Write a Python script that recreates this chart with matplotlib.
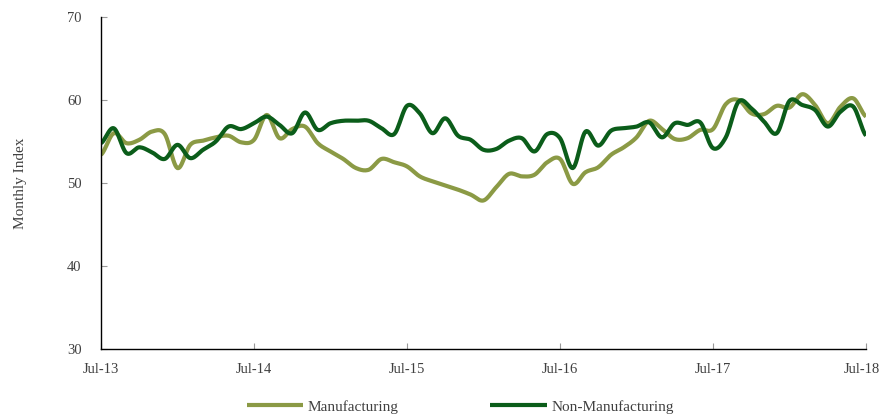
import numpy as np
import matplotlib
matplotlib.use('Agg')
import matplotlib.pyplot as plt
import matplotlib.transforms as mtransforms

# monthly index values, Jul-13 .. Jul-18
manufacturing = [53.4, 56.0, 54.8, 55.2, 56.2, 55.9, 51.8, 54.6, 55.1, 55.5,
                 55.7, 54.9, 55.2, 58.2, 55.4, 56.5, 56.8, 54.8, 53.8, 52.9,
                 51.8, 51.6, 52.9, 52.5, 52.0, 50.8, 50.2, 49.7, 49.2, 48.6,
                 47.9, 49.5, 51.1, 50.8, 51.0, 52.5, 52.9, 49.9, 51.3, 51.9,
                 53.4, 54.3, 55.5, 57.5, 56.5, 55.3, 55.4, 56.4, 56.5, 59.5,
                 60.0, 58.4, 58.3, 59.3, 59.1, 60.7, 59.4, 57.2, 59.2, 60.2,
                 58.0]
non_manufacturing = [54.8, 56.6, 53.6, 54.3, 53.7, 52.9, 54.6, 53.0, 54.0, 55.0,
                     56.8, 56.5, 57.2, 58.0, 57.0, 56.0, 58.5, 56.4, 57.2, 57.5,
                     57.5, 57.5, 56.6, 55.9, 59.3, 58.4, 56.0, 57.8, 55.7, 55.2,
                     54.0, 54.1, 55.1, 55.4, 53.8, 55.9, 55.4, 51.8, 56.2, 54.5,
                     56.3, 56.6, 56.8, 57.3, 55.5, 57.2, 57.0, 57.3, 54.2, 55.5,
                     59.8, 59.0, 57.4, 56.0, 59.9, 59.4, 58.8, 56.8, 58.6, 59.2,
                     55.7]
tick_labels = ['Jul-13', 'Jul-14', 'Jul-15', 'Jul-16', 'Jul-17', 'Jul-18']


def smooth(y, steps=12):
    # catmull-rom curve through the points, like a spreadsheet "smoothed line"
    y = np.asarray(y, dtype=float)
    p = np.concatenate([[y[0]], y, [y[-1]]])
    xs, ys = [], []
    t = np.linspace(0, 1, steps, endpoint=False)
    for i in range(len(y) - 1):
        p0, p1, p2, p3 = p[i], p[i + 1], p[i + 2], p[i + 3]
        seg = 0.5 * ((2 * p1) + (-p0 + p2) * t + (2 * p0 - 5 * p1 + 4 * p2 - p3) * t ** 2
                     + (-p0 + 3 * p1 - 3 * p2 + p3) * t ** 3)
        xs.extend(i + t)
        ys.extend(seg)
    xs.append(len(y) - 1)
    ys.append(y[-1])
    return np.array(xs), np.array(ys)


plt.rcParams['font.family'] = ['Liberation Serif', 'DejaVu Serif']

fig = plt.figure(figsize=(8.82, 4.15), dpi=100)
ax = fig.add_axes([0.1145, 0.159, 0.8674, 0.8])

xm, ym = smooth(manufacturing)
xn, yn = smooth(non_manufacturing)
ax.plot(xm, ym, color='#8B9A45', lw=3.0, label='Manufacturing', solid_capstyle='butt')
ax.plot(xn, yn, color='#0B5D1A', lw=3.0, label='Non-Manufacturing', solid_capstyle='butt')

ax.set_xlim(0, 60)
ax.set_ylim(30, 70)
ax.set_xticks(range(0, 61, 12))
ax.set_xticklabels(tick_labels)
ax.set_yticks([30, 40, 50, 60, 70])
ax.tick_params(direction='in', length=4, color='#999999', labelcolor='#404040',
               labelsize=10.5)
ax.tick_params(axis='x', pad=10)
ax.tick_params(axis='y', pad=14)
for s in ['top', 'right']:
    ax.spines[s].set_visible(False)
for s in ['left', 'bottom']:
    ax.spines[s].set_color('black')
    ax.spines[s].set_linewidth(1.0)
ax.set_ylabel('Monthly Index', fontsize=11, color='#404040', labelpad=29)

# nudge the last tick label so it stays inside the figure
last = ax.get_xticklabels()[-1]
last.set_transform(last.get_transform() +
                   mtransforms.ScaledTranslation(-4 / 100, 0, fig.dpi_scale_trans))

fig.legend(loc='lower center', bbox_to_anchor=(0.522, -0.03), ncol=2, frameon=False,
           fontsize=11, handlelength=3.7, handletextpad=0.3, columnspacing=6,
           labelcolor='#404040')

fig.savefig('out.png', dpi=100)
